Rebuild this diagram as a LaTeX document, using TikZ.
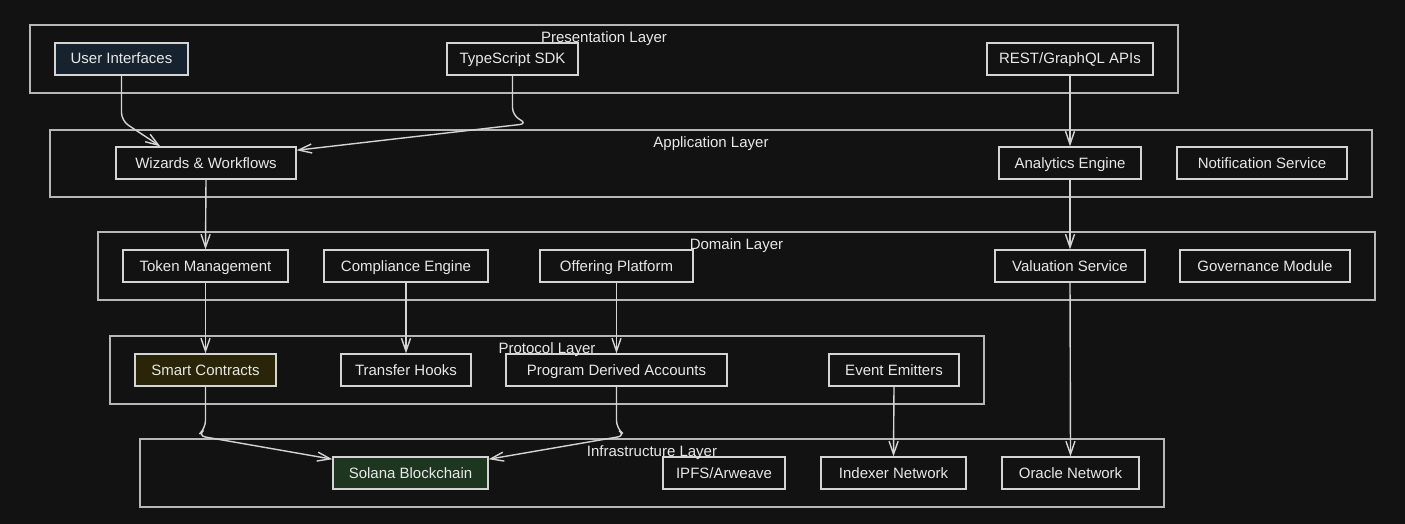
\documentclass[tikz,border=0pt]{standalone}
\usepackage{fontspec}
\setmainfont{Liberation Sans}
\usetikzlibrary{arrows.meta}
\definecolor{bg}{HTML}{121212}
\definecolor{ln}{HTML}{D4D4D4}
\definecolor{txt}{HTML}{E8E8E8}
\definecolor{uifill}{HTML}{16232F}
\definecolor{scfill}{HTML}{2A2408}
\definecolor{solfill}{HTML}{1E3620}
\begin{document}
\begin{tikzpicture}[x=1pt,y=-1pt,
        every node/.style={font=\fontsize{15}{18}\selectfont,text=txt,text height=12pt,text depth=2pt},
        box/.style={draw=ln,line width=1.3pt,fill=bg,minimum height=32pt,inner sep=0pt},
        layer/.style={draw=ln!85!bg,line width=1.4pt,minimum height=68pt,inner sep=0pt},
        arr/.style={draw=ln,line width=1.4pt,rounded corners=8pt,-{Straight Barb[length=13pt,width=9pt]}}]
    \fill[bg] (0,0) rectangle (1405,524);
    \useasboundingbox (0,0) rectangle (1405,524);
    \node[layer,minimum width=1148pt] (pres) at (604,59) {};
    \node[layer,minimum width=1322pt,minimum height=67pt] (app) at (711,163.5) {};
    \node[layer,minimum width=1277pt] (dom) at (736.5,266) {};
    \node[layer,minimum width=874pt] (prot) at (547,370) {};
    \node[layer,minimum width=1024pt] (infra) at (652,473) {};

    \node[box,fill=uifill,minimum width=133pt] (ui) at (121.5,59) {User Interfaces};
    \node[box,minimum width=131pt] (ts) at (512.5,59) {TypeScript SDK};
    \node[box,minimum width=166pt] (api) at (1070,59) {REST/GraphQL APIs};

    \node[box,minimum width=180pt] (wiz) at (206,163) {Wizards \& Workflows};
    \node[box,minimum width=142pt] (ana) at (1070,163) {Analytics Engine};
    \node[box,minimum width=170pt] (notif) at (1262,163) {Notification Service};

    \node[box,minimum width=165pt] (tok) at (205.5,266) {Token Management};
    \node[box,minimum width=164pt] (comp) at (406,266) {Compliance Engine};
    \node[box,minimum width=153pt] (offer) at (616.5,266) {Offering Platform};
    \node[box,minimum width=150pt] (val) at (1070,266) {Valuation Service};
    \node[box,minimum width=170pt] (gov) at (1265,266) {Governance Module};

    \node[box,fill=scfill,minimum width=141pt] (sc) at (205.5,370) {Smart Contracts};
    \node[box,minimum width=130pt] (hooks) at (406,370) {Transfer Hooks};
    \node[box,minimum width=221pt] (pda) at (616.5,370) {Program Derived Accounts};
    \node[box,minimum width=130pt] (evt) at (894,370) {Event Emitters};

    \node[box,fill=solfill,minimum width=155pt] (sol) at (410.5,473) {Solana Blockchain};
    \node[box,minimum width=122pt] (ipfs) at (724,473) {IPFS/Arweave};
    \node[box,minimum width=145pt] (idx) at (893.5,473) {Indexer Network};
    \node[box,minimum width=137pt] (orc) at (1070.5,473) {Oracle Network};

    \draw[arr] (ui.south) -- ++(0,45) -- (wiz.160);
    \draw[arr] (ts.south) -- ++(0,40) -- ++(15,8) -- (wiz.8);
    \draw[arr] (api.south) -- (ana.north);
    \draw[arr] (wiz.south) -- (tok.north);
    \draw[arr] (ana.south) -- (val.north);
    \draw[arr] (tok.south) -- (sc.north);
    \draw[arr] (comp.south) -- (hooks.north);
    \draw[arr] (offer.south) -- (pda.north);
    \draw[arr] (val.south) -- (orc.north);
    \draw[arr] (evt.south) -- (idx.north);
    \draw[arr] (sc.south) -- ++(0,42) -- ++(-8,7) -- (sol.170);
    \draw[arr] (pda.south) -- ++(0,42) -- ++(9,7) -- (sol.10);

    \node at ([yshift=-13pt]pres.north) {Presentation Layer};
    \node at ([yshift=-13pt]app.north) {Application Layer};
    \node at ([yshift=-13pt]dom.north) {Domain Layer};
    \node at ([yshift=-13pt]prot.north) {Protocol Layer};
    \node at ([yshift=-13pt]infra.north) {Infrastructure Layer};
\end{tikzpicture}
\end{document}
